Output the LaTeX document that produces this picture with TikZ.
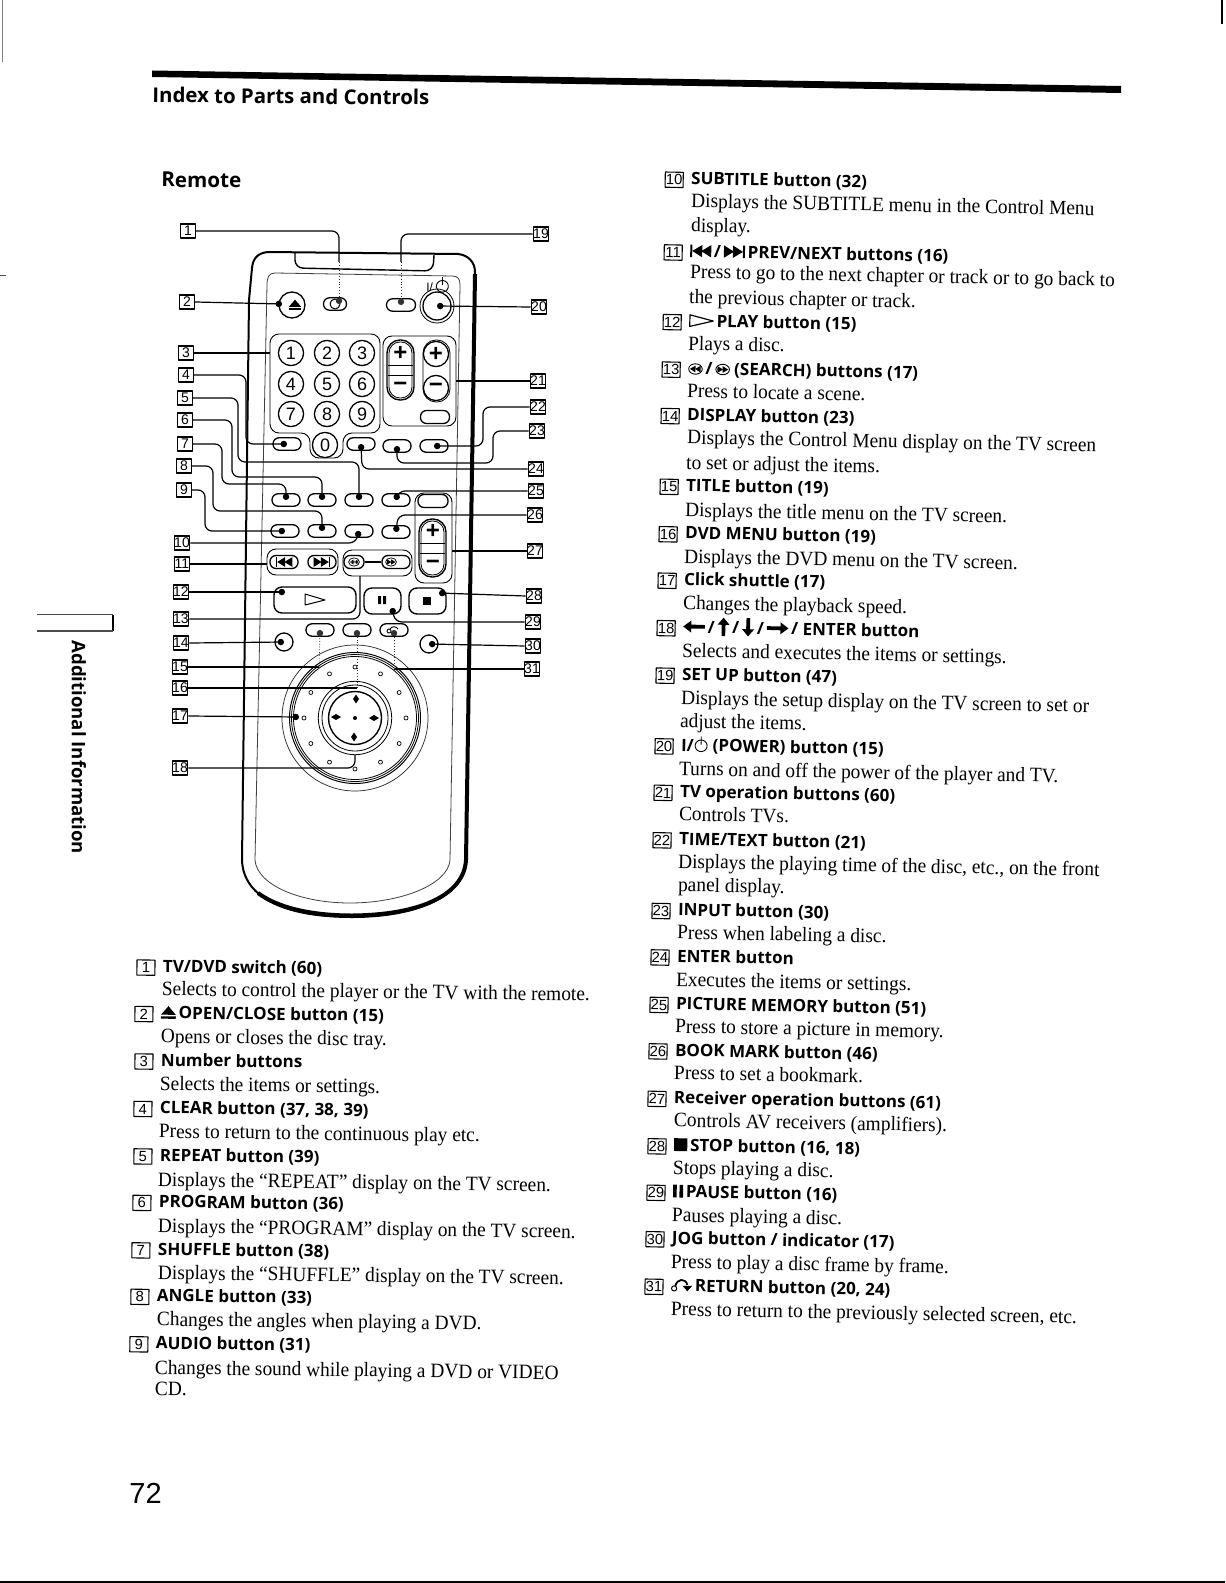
\documentclass[tikz,border=0pt]{standalone}
\usepackage{fontspec}
\setmainfont[FakeStretch=.95]{Liberation Serif}
\setsansfont{Liberation Sans}
\newfontfamily\hdf{Open Sans}
\usetikzlibrary{arrows.meta,calc}
\newcount\tcnt
\def\rt{-1.1}
\tikzset{
 every picture/.append style={line join=round},
 bodyt/.style={anchor=mid west,inner sep=0,rotate=\rt,font=\fontsize{10.2}{12}\selectfont},
 headt/.style={anchor=mid west,inner sep=0,rotate=\rt,font=\hdf\bfseries\fontsize{8.5}{12}\selectfont},
 lnum/.style={draw,line width=.55pt,inner sep=0,minimum width=9pt,minimum height=7.6pt,rotate=\rt,font=\sffamily\fontsize{7.4}{8}\selectfont},
 rnum/.style={draw,line width=.55pt,inner sep=0,minimum width=7.6pt,minimum height=7pt,font=\sffamily\fontsize{7}{8}\selectfont},
 rbtn/.style={draw,line width=.65pt,inner sep=0,minimum width=14pt,minimum height=6.2pt,rounded corners=3pt},
 rnd/.style={draw,circle,line width=.65pt,inner sep=0,minimum size=#1,font=\sffamily\fontsize{9}{10}\selectfont},
 panel/.style={draw,line width=.45pt,rounded corners=4.5pt},
 thinl/.style={draw,line width=.4pt,black!75},
 lead/.style={line width=.6pt,rounded corners=3.5pt},
 leadd/.style={lead,-{Circle[length=3.2pt,width=3.2pt]}},
 dotl/.style={line width=.4pt,densely dotted,black!80,-{Circle[length=3.2pt,width=3.2pt]}},
 sign/.style={inner sep=0,font=\sffamily\bfseries\fontsize{12}{12}\selectfont},
}
\newcommand\icEject{\tikz[baseline=0pt,x=1pt,y=1pt]{\fill (0,2)--(7.4,2)--(3.7,6.3)--cycle; \fill (0,0) rectangle (7.4,1.2);}}
\newcommand\icPrev{\tikz[baseline=0pt,x=1pt,y=1pt]{\fill (0,0) rectangle (1,6.2); \fill (1,3.1)--(6,6.2)--(6,0)--cycle; \fill (5.5,3.1)--(10.5,6.2)--(10.5,0)--cycle;}}
\newcommand\icNext{\tikz[baseline=0pt,x=1pt,y=1pt]{\fill (10,0) rectangle (11,6.2); \fill (10,3.1)--(5,6.2)--(5,0)--cycle; \fill (5.5,3.1)--(.5,6.2)--(.5,0)--cycle;}}
\newcommand\icPlay{\tikz[baseline=0pt,x=1pt,y=1pt]{\draw[line width=.6pt] (.3,.2)--(.3,6)--(12,3.1)--cycle;}}
\newcommand\icRew{\tikz[baseline=0pt,x=1pt,y=1pt]{\draw[line width=.45pt] (3.6,2.7) ellipse (3.4 and 2.6); \fill (.8,2.7)--(3.6,4.4)--(3.6,1)--cycle; \fill (3.4,2.7)--(6.2,4.4)--(6.2,1)--cycle;}}
\newcommand\icFwd{\tikz[baseline=0pt,x=1pt,y=1pt]{\draw[line width=.45pt] (3.6,2.7) ellipse (3.4 and 2.6); \fill (6.4,2.7)--(3.6,4.4)--(3.6,1)--cycle; \fill (3.8,2.7)--(1,4.4)--(1,1)--cycle;}}
\newcommand\icArr[1]{\tikz[baseline=0pt,x=1pt,y=1pt]{\begin{scope}[shift={(5,3.2)},rotate=#1]\fill (-5.6,0)--(-1.6,3)--(-1.6,1)--(5.2,.9)--(5.2,-.9)--(-1.6,-1)--(-1.6,-3)--cycle;\end{scope}}}
\newcommand\icArv[1]{\tikz[baseline=0pt,x=1pt,y=1pt]{\begin{scope}[shift={(3.2,3.4)},rotate=#1]\fill (-4.6,0)--(-1,3)--(-1,1)--(4.6,.9)--(4.6,-.9)--(-1,-1)--(-1,-3)--cycle;\end{scope}}}
\newcommand\icPow{\tikz[baseline=0pt,x=1pt,y=1pt]{\draw[line width=.45pt] (1.6,5.3) arc (120:-240:3 and 2.9); \draw[line width=.45pt] (3.1,3.4)--(3.1,7.4);}}
\newcommand\icStop{\tikz[baseline=0pt,x=1pt,y=1pt]{\fill (0,0) rectangle (6.6,6.4);}}
\newcommand\icPause{\tikz[baseline=0pt,x=1pt,y=1pt]{\fill (0,0) rectangle (1.8,6.4); \fill (3.2,0) rectangle (5,6.4);}}
\newcommand\icRet{\tikz[baseline=0pt,x=1pt,y=1pt]{\draw[line width=.5pt] (1.6,1.5) circle (1.3); \draw[line width=.9pt] (2.2,2.8) .. controls (3,6.4) and (7,7) .. (8.2,3.4); \fill (5.8,2.9)--(10.6,2.9)--(8.2,.2)--cycle;}}
\newcommand\lstB[3]{\global\advance\tcnt by 1 \node[bodyt] (t\the\tcnt) at (#1,#2) {#3};}
\newcommand\lstH[4]{\global\advance\tcnt by 1 \node[lnum] (n#1) at ($(#2,#3)+(-16.5,0)$) {#1};\node[headt] (t\the\tcnt) at (#2,#3) {#4};}
\begin{document}
\begin{tikzpicture}[x=.5pt,y=-.5pt]
\useasboundingbox (0,0) rectangle (1225,1583);
\fill[white] (0,0) rectangle (1225,1583);
% page edges
\draw[line width=.3pt,black!50] (2.5,0) -- (2.5,62);
\draw[line width=1.2pt] (1222,0) -- (1222,24);
\draw[line width=.8pt] (0,1582) -- (1225,1582);
\draw[line width=.4pt,black!70] (0,275) -- (6,275);
% title rule
\fill (152,70.5) -- (1121,86) -- (1121,93) -- (152,77) -- cycle;
\node[anchor=base west,inner sep=0,rotate=-.5,font=\hdf\bfseries\fontsize{10.2}{12}\selectfont] (title) at (152,102.5) {Index to Parts and Controls};
\node[anchor=base west,inner sep=0,rotate=-.5,font=\hdf\bfseries\fontsize{10.3}{12}\selectfont] (remote) at (161,187) {Remote};
% side tab
\draw[line width=.6pt,black!70] (37,614.5) -- (113,614.5);
\draw[line width=.8pt] (113,614.5) -- (113,631);
\draw[line width=.6pt,black!70] (113,631) -- (37,631);
\node[anchor=mid west,inner sep=0,rotate=-90,font=\hdf\bfseries\fontsize{9.3}{12}\selectfont] (tab) at (76.5,640) {Additional Information};
\node[anchor=base west,inner sep=0,font=\sffamily\fontsize{14.5}{15}\selectfont] (pageno) at (129,1503) {72};
% remote body
\draw[line width=1pt] (249,300) -- (252,268) .. controls (253,258) and (258,253) .. (268,252) -- (458,254) .. controls (468,255) and (475,262) .. (475,272) -- (466,860) .. controls (464,895) and (420,917) .. (352,917) .. controls (280,917) and (243,895) .. (242,860) -- cycle;
\draw[line width=2pt] (475,274) -- (466,860) .. controls (464,895) and (420,915) .. (352,915.5) .. controls (312,915.5) and (278,908) .. (258,893);
\draw[thinl] (267,285) .. controls (267,277) and (269,273) .. (275,273) -- (452,276) .. controls (458,276) and (460,279) .. (460,285) -- (450,860) .. controls (448,885) and (400,903) .. (350,903) .. controls (300,903) and (257,885) .. (255,860) -- cycle;
\draw[line width=.7pt,rounded corners=4pt] (295,253) -- (295,268) -- (433,271) -- (434,255);
% top row
\node[rnd=13pt] (ej) at (292,305) {};
\node[inner sep=0] (ejs) at (295,305) {\scalebox{.85}{\icEject}};
\node[rbtn,minimum width=11.5pt] (sw) at (335,304) {};
\draw[line width=.5pt] (335,304) circle (5);
\node[rbtn,minimum width=14.5pt] (setup) at (401,305) {};
\node[rnd=17pt,line width=.4pt] (powo) at (437,306) {};
\node[rnd=14pt] (pow) at (437,306) {};
\node[inner sep=0,font=\sffamily\fontsize{6}{7}\selectfont] (powl) at (438,285) {I/\,\icPow};
% number panel
\draw[panel] (270,334) -- (380,334) -- (380,433) -- (343,433) -- (343,458) -- (310,458) -- (310,433) -- (270,433) -- cycle;
\node[rnd=12.6pt] (k1) at (291,353) {1};
\node[rnd=12.6pt] (k2) at (327,353) {2};
\node[rnd=12.6pt] (k3) at (362,353) {3};
\node[rnd=12.6pt] (k4) at (291,384) {4};
\node[rnd=12.6pt] (k5) at (327,384) {5};
\node[rnd=12.6pt] (k6) at (362,384) {6};
\node[rnd=12.6pt] (k7) at (291,414) {7};
\node[rnd=12.6pt] (k8) at (327,414) {8};
\node[rnd=12.6pt] (k9) at (362,414) {9};
\node[rnd=12.6pt] (k0) at (325,445) {0};
% TV panel
\draw[panel] (383,336) rectangle (456,426);
\draw[line width=.7pt,rounded corners=6.5pt] (387,340) rectangle (414,400);
\draw[line width=.4pt,rounded corners=5.5pt] (389,342) rectangle (412,398);
\draw[line width=.5pt] (388,365) -- (413,365) (388,375) -- (413,375);
\node[sign] (tvp) at (400.5,353) {+};
\node[sign] (tvm) at (400.5,387) {−};
\draw[line width=.4pt,rounded corners=6.5pt] (423,340) rectangle (450,402);
\node[rnd=12.6pt,font=\sffamily\bfseries\fontsize{12}{12}\selectfont] (chp) at (436,354) {+};
\node[rnd=12.6pt,font=\sffamily\bfseries\fontsize{12}{12}\selectfont] (chm) at (436,388) {−};
\node[rbtn,minimum width=14.5pt,minimum height=6.5pt] (tt0) at (435,417) {};
% row under numbers
\node[rbtn] (clr) at (287,444) {};
\node[rbtn] (ent) at (361,444) {};
\node[rbtn] (inp) at (397,446) {};
\node[rbtn] (tim) at (434,446) {};
% rows
\node[rbtn] (rep) at (286,500) {};
\node[rbtn] (prg) at (322,500) {};
\node[rbtn] (shf) at (359,500) {};
\node[rbtn] (pic) at (396,500) {};
\node[rbtn] (aud) at (285,531) {};
\node[rbtn] (ang) at (322,531) {};
\node[rbtn] (sub) at (359,531) {};
\node[rbtn] (bok) at (396,532) {};
% receiver panel
\draw[panel] (415,493) rectangle (452,583);
\node[rbtn,minimum width=15pt,minimum height=6.5pt] (rcv0) at (433,501) {};
\draw[line width=.7pt,rounded corners=6.5pt] (419,519) rectangle (446,577);
\draw[line width=.4pt,rounded corners=5.5pt] (421,521) rectangle (444,575);
\draw[line width=.5pt] (420,543) -- (445,543) (420,553) -- (445,553);
\node[sign] (rcp) at (433,531) {+};
\node[sign] (rcm) at (433,565) {−};
% prev next / search
\draw[panel] (267,549) rectangle (338,575);
\node[rbtn,minimum height=6.5pt] (prv) at (284,562) {};
\node[inner sep=0] (prvi) at (284,562) {\scalebox{.8}{\icPrev}};
\node[rbtn,minimum height=6.5pt] (nxt) at (322,562) {};
\node[inner sep=0] (nxti) at (322,562) {\scalebox{.8}{\icNext}};
\draw[panel] (343,550) rectangle (412,576);
\node[rbtn,minimum width=10pt,minimum height=6.5pt] (rew) at (354,562) {\scalebox{.8}{\icRew}};
\node[rbtn,minimum width=14pt,minimum height=6.5pt] (fwd) at (396,562) {};
\node[inner sep=0] (fwdi) at (391,562) {\scalebox{.8}{\icFwd}};
\draw[line width=.6pt] (rew) -- (fwd);
% transport
\node[draw,line width=.7pt,rounded corners=4pt,minimum width=41pt,minimum height=13pt,inner sep=0] (play) at (315,600) {};
\draw[line width=.5pt] (305,594) -- (305,605) -- (325,600) -- cycle;
\node[draw,line width=.7pt,rounded corners=4pt,minimum width=18.5pt,minimum height=13pt,inner sep=0] (paus) at (382.5,601) {};
\fill (378,596) rectangle (381,604) (383,596) rectangle (386,604);
\node[draw,line width=.7pt,rounded corners=4pt,minimum width=18.5pt,minimum height=13pt,inner sep=0] (stop) at (427.5,601) {};
\fill (423,597) rectangle (431,605);
% lower row
\node[rbtn] (ttl) at (320,630) {};
\node[rbtn] (dvd) at (357,630) {};
\node[rbtn] (ret) at (394,630) {};
\draw[line width=.45pt] (389,631) circle (2);
\draw[line width=.45pt] (390,629) .. controls (392,626) and (396,626) .. (398,629);
\node[rnd=9pt] (dsp) at (284,642) {};
\node[rnd=9pt] (jog) at (429,644) {};
% jog dial
\coordinate (jc) at (355,718);
\draw[line width=.35pt,black!85] (jc) circle (73);
\draw[line width=.5pt] (jc) circle (65.5);
\draw[line width=.4pt] (jc) circle (63.5);
\draw[line width=.4pt] (jc) circle (61.5);
\draw[line width=.4pt] (jc) circle (36.7);
\draw[line width=.4pt] (jc) circle (33);
\draw[line width=.7pt] (jc) circle (26.5);
\foreach \a in {0,30,...,330} \draw[line width=.35pt] ($(jc)+(\a:51)$) circle (2);
\fill (356,694.5)--(359,699)--(356,703.5)--(353,699)--cycle;
\fill (369,718)--(374,715)--(379,718)--(374,721)--cycle;
\fill (354,732.5)--(357,737)--(354,741.5)--(351,737)--cycle;
\fill (331,717)--(336,714)--(341,717)--(336,720)--cycle;
\fill (jc) circle (2);
% callout numbers
\node[rnum] (l1) at (188,231) {1};
\node[rnum] (l2) at (187,302) {2};
\node[rnum] (l3) at (186,353) {3};
\node[rnum] (l4) at (186,375) {4};
\node[rnum] (l5) at (185,398) {5};
\node[rnum] (l6) at (185,420) {6};
\node[rnum] (l7) at (185,444) {7};
\node[rnum] (l8) at (184,466) {8};
\node[rnum] (l9) at (184,490) {9};
\node[rnum] (l10) at (182,543) {10};
\node[rnum] (l11) at (182,564) {11};
\node[rnum] (l12) at (181,592) {12};
\node[rnum] (l13) at (181,619) {13};
\node[rnum] (l14) at (181,643) {14};
\node[rnum] (l15) at (180,667) {15};
\node[rnum] (l16) at (180,688) {16};
\node[rnum] (l17) at (180,716) {17};
\node[rnum] (l18) at (180,768) {18};
\node[rnum] (l19) at (541,234) {19};
\node[rnum] (l20) at (539,307) {20};
\node[rnum] (l21) at (538,381) {21};
\node[rnum] (l22) at (538,407) {22};
\node[rnum] (l23) at (537,431) {23};
\node[rnum] (l24) at (536,469) {24};
\node[rnum] (l25) at (536,491) {25};
\node[rnum] (l26) at (535,515) {26};
\node[rnum] (l27) at (535,551) {27};
\node[rnum] (l28) at (534,596) {28};
\node[rnum] (l29) at (533,622) {29};
\node[rnum] (l30) at (533,646) {30};
\node[rnum] (l31) at (532,669) {31};
% connector anchor points
\coordinate (d2) at (282,304);
\coordinate (d12) at (285,592);
\coordinate (d17) at (299,717);
\coordinate (d28) at (439,593);
\coordinate (d29) at (392,608);
\coordinate (e3) at (270,353);
\coordinate (e11) at (267,564);
\coordinate (e13) at (360,576);
\coordinate (e18) at (355,755);
\coordinate (e21) at (456,381);
\coordinate (e27) at (452,551);
\coordinate (c1) at (339,262);
\coordinate (c19) at (401,262);
\coordinate (c4) at (246,444);
\coordinate (c5a) at (238,462);
\coordinate (c5b) at (359,462);
\coordinate (c6a) at (232,477);
\coordinate (c6b) at (322,477);
\coordinate (c7a) at (222,484);
\coordinate (c7b) at (286,484);
\coordinate (c8a) at (213,511);
\coordinate (c8b) at (322,511);
\coordinate (c9a) at (205,531);
\coordinate (c10) at (356,543);
\coordinate (c15) at (319,667);
\coordinate (c16) at (357,688);
\coordinate (c22a) at (483,446);
\coordinate (c23a) at (493,463);
\coordinate (c23b) at (397,463);
\coordinate (c24) at (362,469);
\coordinate (c25) at (398,491);
\coordinate (c26) at (398,515);
\coordinate (c29) at (395,622);
\coordinate (c31) at (394,669);
% connectors
\draw[lead] (l1.east) -| (c1);
\draw[dotl] (c1) -- (339,304);
\draw[lead] (l19.west) -| (c19);
\draw[dotl] (c19) -- (setup.center);
\draw[leadd] (l2.east) -- (d2);
\draw[leadd] (l20.west) -- (pow.center);
\draw[lead] (l3.east) -- (e3);
\draw[leadd] (l4.east) -| (c4) -- (clr.center);
\draw[leadd] (l5.east) -| (c5a) -- (c5b) -- (shf.center);
\draw[leadd] (l6.east) -| (c6a) -- (c6b) -- (prg.center);
\draw[leadd] (l7.east) -| (c7a) -- (c7b) -- (rep.center);
\draw[leadd] (l8.east) -| (c8a) -- (c8b) -- (ang.center);
\draw[leadd] (l9.east) -| (c9a) -- (aud.center);
\draw[leadd] (l10.east) -- (c10) -- (sub.center);
\draw[lead] (l11.east) -- (e11);
\draw[leadd] (l12.east) -- (d12);
\draw[lead] (l13.east) -| (e13);
\draw[leadd] (l14.east) -- (dsp.center);
\draw[lead] (l15.east) -- (c15);
\draw[dotl] (c15) -- (ttl.center);
\draw[lead] (l16.east) -- (c16);
\draw[dotl] (c16) -- (dvd.center);
\draw[leadd] (l17.east) -- (d17);
\draw[lead] (l18.east) -| (e18);
\draw[lead] (l21.west) -- (e21);
\draw[leadd] (l22.west) -| (c22a) -- (tim.center);
\draw[leadd] (l23.west) -| (c23a) -- (c23b) -- (inp.center);
\draw[leadd] (l24.west) -- (c24) -- (ent.center);
\draw[leadd] (l25.west) -- (c25) -- (pic.center);
\draw[leadd] (l26.west) -- (c26) -- (bok.center);
\draw[lead] (l27.west) -- (e27);
\draw[leadd] (l28.west) -- (d28);
\draw[leadd] (l29.west) -- (c29) -- (d29);
\draw[leadd] (l30.west) -- (jog.center);
\draw[lead] (l31.west) -- (c31);
\draw[dotl] (c31) -- (ret.center);
% lists, in the coordinates of a slightly smaller sheet
\begin{scope}[x=.505pt,y=-.505pt]
\def\rt{-.75}
\lstH{1}{161}{958}{TV/DVD switch (60)}
\lstB{160}{981}{Selects to control the player or the TV with the remote.}
\lstH{2}{159}{1004}{\icEject\,OPEN/CLOSE button (15)}
\lstB{159}{1028}{Opens or closes the disc tray.}
\lstH{3}{159}{1051}{Number buttons}
\lstB{158}{1075}{Selects the items or settings.}
\lstH{4}{158}{1098}{CLEAR button (37, 38, 39)}
\lstB{157}{1122}{Press to return to the continuous play etc.}
\lstH{5}{158}{1145}{REPEAT button (39)}
\lstB{156}{1170}{Displays the “REPEAT” display on the TV screen.}
\lstH{6}{157}{1191}{PROGRAM button (36)}
\lstB{156}{1216}{Displays the “PROGRAM” display on the TV screen.}
\lstH{7}{156}{1238}{SHUFFLE button (38)}
\lstB{156}{1262}{Displays the “SHUFFLE” display on the TV screen.}
\lstH{8}{155}{1284}{ANGLE button (33)}
\lstB{155}{1308}{Changes the angles when playing a DVD.}
\lstH{9}{154}{1331}{AUDIO button (31)}
\lstB{153}{1356}{Changes the sound while playing a DVD or VIDEO}
\lstB{153}{1377}{CD.}
\def\rt{-1.1}
\lstH{10}{684}{178}{SUBTITLE button (32)}
\lstB{684}{201}{Displays the SUBTITLE menu in the Control Menu}
\lstB{684}{225}{display.}
\lstH{11}{683}{250}{\icPrev\,/\,\icNext\,PREV/NEXT buttons (16)}
\lstB{683}{271}{Press to go to the next chapter or track or to go back to}
\lstB{682}{296}{the previous chapter or track.}
\lstH{12}{682}{319}{\icPlay\,PLAY button (15)}
\lstB{681}{342}{Plays a disc.}
\lstH{13}{681}{366}{\icRew\,/\,\icFwd\ (SEARCH) buttons (17)}
\lstB{680}{389}{Press to locate a scene.}
\lstH{14}{680}{412}{DISPLAY button (23)}
\lstB{680}{435}{Displays the Control Menu display on the TV screen}
\lstB{679}{460}{to set or adjust the items.}
\lstH{15}{679}{482}{TITLE button (19)}
\lstB{678}{507}{Displays the title menu on the TV screen.}
\lstH{16}{678}{529}{DVD MENU button (19)}
\lstB{677}{553}{Displays the DVD menu on the TV screen.}
\lstH{17}{677}{575}{Click shuttle (17)}
\lstB{676}{599}{Changes the playback speed.}
\lstH{18}{676}{622}{\icArr{0}\,/\,\icArv{-90}\,/\,\icArv{90}\,/\,\icArr{180}\,/ ENTER button}
\lstB{675}{646}{Selects and executes the items or settings.}
\lstH{19}{675}{669}{SET UP button (47)}
\lstB{674}{693}{Displays the setup display on the TV screen to set or}
\lstB{673}{716}{adjust the items.}
\lstH{20}{674}{739}{I/\icPow\ (POWER) button (15)}
\lstB{672}{763}{Turns on and off the power of the player and TV.}
\lstH{21}{673}{785}{TV operation buttons (60)}
\lstB{672}{808}{Controls TVs.}
\lstH{22}{672}{832}{TIME/TEXT button (21)}
\lstB{671}{855}{Displays the playing time of the disc, etc., on the front}
\lstB{671}{878}{panel display.}
\lstH{23}{671}{902}{INPUT button (30)}
\lstB{670}{925}{Press when labeling a disc.}
\lstH{24}{670}{948}{ENTER button}
\lstB{669}{972}{Executes the items or settings.}
\lstH{25}{669}{995}{PICTURE MEMORY button (51)}
\lstB{668}{1018}{Press to store a picture in memory.}
\lstH{26}{668}{1041}{BOOK MARK button (46)}
\lstB{667}{1064}{Press to set a bookmark.}
\lstH{27}{667}{1088}{Receiver operation buttons (61)}
\lstB{667}{1111}{Controls AV receivers (amplifiers).}
\lstH{28}{667}{1135}{\icStop\,STOP button (16, 18)}
\lstB{666}{1158}{Stops playing a disc.}
\lstH{29}{666}{1181}{\icPause\,PAUSE button (16)}
\lstB{665}{1205}{Pauses playing a disc.}
\lstH{30}{665}{1227}{JOG button / indicator (17)}
\lstB{664}{1251}{Press to play a disc frame by frame.}
\lstH{31}{664}{1274}{\icRet\,RETURN button (20, 24)}
\lstB{664}{1298}{Press to return to the previously selected screen, etc.}
\end{scope}
\end{tikzpicture}
\end{document}
